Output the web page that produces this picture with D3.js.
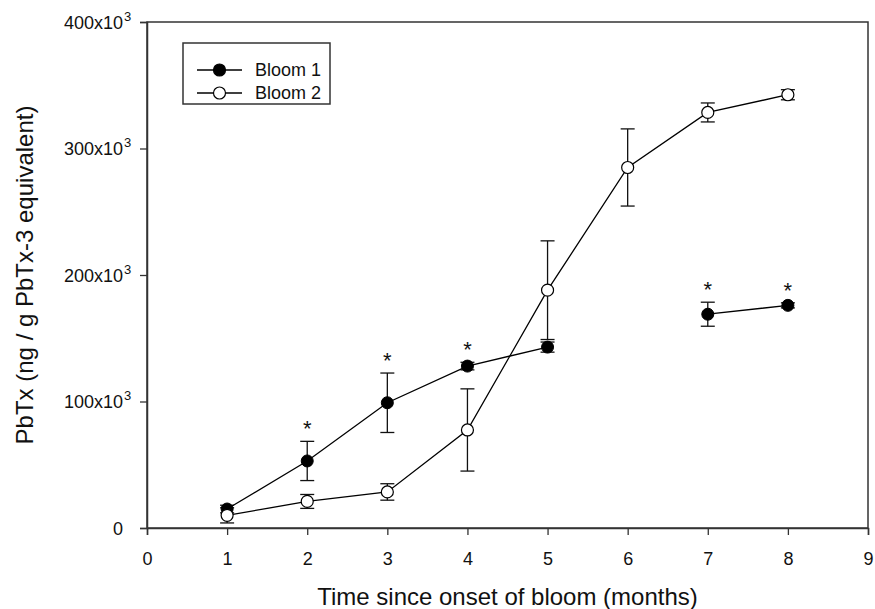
<!DOCTYPE html>
<html>
<head>
<meta charset="utf-8">
<script src="https://cdn.jsdelivr.net/npm/d3@7"></script>
<style>
  body { margin: 0; background: #fff; }
  text { font-family: "Liberation Sans", Arial, sans-serif; }
</style>
</head>
<body>
<div id="chart"></div>
<script>
// months since bloom onset
const bloom1Months = [1, 2, 3, 4, 5, 7, 8];
const bloom1Values = [15000, 53000, 99000, 128000, 143000, 169000, 176000];
const bloom1Errors = [3000, 15500, 23500, 3000, 4000, 9500, 2000];
const bloom1Signif = [false, true, true, true, false, true, true];

const bloom2Months = [1, 2, 3, 4, 5, 6, 7, 8];
const bloom2Values = [10000, 21000, 28500, 77500, 188000, 285000, 328500, 342500];
const bloom2Errors = [6000, 5500, 6500, 32500, 39000, 30500, 7500, 4000];

const xTicks = [0, 1, 2, 3, 4, 5, 6, 7, 8, 9];
const yTicks = [0, 100000, 200000, 300000, 400000];

const W = 875, H = 609;
const m = { left: 147, right: 7, top: 22, bottom: 81 };

const svg = d3.select("#chart").append("svg")
    .attr("width", W).attr("height", H);

const x = d3.scaleLinear().domain([0, 9]).range([m.left, W - m.right]);
const y = d3.scaleLinear().domain([0, 400000]).range([H - m.bottom, m.top]);

const axisColor = "#333";
const tickFont = 18;

// frame
svg.append("rect")
    .attr("x", x(0)).attr("y", y(400000))
    .attr("width", x(9) - x(0)).attr("height", y(0) - y(400000))
    .attr("fill", "none").attr("stroke", axisColor).attr("stroke-width", 1.5);

const xAxis = svg.append("g")
    .attr("transform", "translate(0," + y(0) + ")")
    .call(d3.axisBottom(x).tickValues(xTicks).tickSize(7).tickPadding(17).tickFormat(d3.format("d")));
const yAxis = svg.append("g")
    .attr("transform", "translate(" + x(0) + ",0)")
    .call(d3.axisLeft(y).tickValues(yTicks).tickSize(7).tickFormat(() => ""));

[xAxis, yAxis].forEach(function (g) {
    g.select(".domain").attr("stroke", axisColor).attr("stroke-width", 1.5);
    g.selectAll(".tick line").attr("stroke", axisColor).attr("stroke-width", 1.3);
    g.selectAll("text").attr("font-size", tickFont).attr("fill", "#111")
        .style("font-family", "'Liberation Sans', Arial, sans-serif");
});

// y tick labels: base text right aligned, exponent hangs past it
yAxis.selectAll(".tick").each(function (d) {
    const tk = d3.select(this);
    tk.select("text").remove();
    tk.append("text")
        .attr("x", -24).attr("dy", "0.35em")
        .attr("text-anchor", "end").attr("font-size", tickFont).attr("fill", "#111")
        .text(d === 0 ? "0" : (d / 1000) + "x10");
    if (d !== 0) {
        tk.append("text")
            .attr("x", -23).attr("dy", "-0.15em")
            .attr("text-anchor", "start").attr("font-size", 13).attr("fill", "#111")
            .text("3");
    }
});

// axis titles
svg.append("text")
    .attr("x", (x(0) + x(9)) / 2).attr("y", 605)
    .attr("text-anchor", "middle").attr("font-size", 24).attr("fill", "#111")
    .text("Time since onset of bloom (months)");
svg.append("text")
    .attr("transform", "translate(33," + ((y(0) + y(400000)) / 2) + ")rotate(-90)")
    .attr("text-anchor", "middle").attr("font-size", 24).attr("fill", "#111")
    .text("PbTx (ng / g PbTx-3 equivalent)");

function toRows(months, values, errors) {
    return months.map(function (mo, i) {
        return { x: mo, v: values[i], e: errors[i] };
    });
}
const rows1 = toRows(bloom1Months, bloom1Values, bloom1Errors);
const rows2 = toRows(bloom2Months, bloom2Values, bloom2Errors);

const line = d3.line()
    .defined(d => d.v != null)
    .x(d => x(d.x)).y(d => y(d.v));

// bloom 1 has no sample at month 6, so the line breaks there
const rows1Gap = rows1.slice(0, 5).concat([{ x: 6, v: null }], rows1.slice(5));

function drawErrors(rows) {
    const g = svg.append("g").attr("stroke", "#111").attr("stroke-width", 1.3);
    rows.forEach(function (d) {
        const cx = x(d.x), top = y(d.v + d.e), bot = y(d.v - d.e);
        g.append("line").attr("x1", cx).attr("x2", cx).attr("y1", top).attr("y2", bot);
        g.append("line").attr("x1", cx - 7).attr("x2", cx + 7).attr("y1", top).attr("y2", top);
        g.append("line").attr("x1", cx - 7).attr("x2", cx + 7).attr("y1", bot).attr("y2", bot);
    });
}

drawErrors(rows2);
drawErrors(rows1);

svg.append("path").datum(rows2).attr("d", line)
    .attr("fill", "none").attr("stroke", "#000").attr("stroke-width", 1.3);
svg.append("path").datum(rows1Gap).attr("d", line)
    .attr("fill", "none").attr("stroke", "#000").attr("stroke-width", 1.3);

svg.append("g").selectAll("circle").data(rows1).enter().append("circle")
    .attr("cx", d => x(d.x)).attr("cy", d => y(d.v)).attr("r", 6)
    .attr("fill", "#000").attr("stroke", "#000").attr("stroke-width", 1);
svg.append("g").selectAll("circle").data(rows2).enter().append("circle")
    .attr("cx", d => x(d.x)).attr("cy", d => y(d.v)).attr("r", 6)
    .attr("fill", "#fff").attr("stroke", "#000").attr("stroke-width", 1.2);

// significance stars above bloom 1 error bars
svg.append("g").selectAll("text")
    .data(rows1.filter((d, i) => bloom1Signif[i])).enter().append("text")
    .attr("x", d => x(d.x)).attr("y", d => y(d.v + d.e) - 5)
    .attr("text-anchor", "middle").attr("font-size", 22).attr("fill", "#111")
    .text("*");

// legend
const leg = svg.append("g");
leg.append("rect").attr("x", 183).attr("y", 43).attr("width", 147).attr("height", 61)
    .attr("fill", "#fff").attr("stroke", axisColor).attr("stroke-width", 1.5);
const legItems = [
    { label: "Bloom 1", fill: "#000", ly: 70 },
    { label: "Bloom 2", fill: "#fff", ly: 93 }
];
legItems.forEach(function (it) {
    leg.append("line").attr("x1", 197).attr("x2", 242).attr("y1", it.ly).attr("y2", it.ly)
        .attr("stroke", "#000").attr("stroke-width", 1.3);
    leg.append("circle").attr("cx", 219.5).attr("cy", it.ly).attr("r", 6)
        .attr("fill", it.fill).attr("stroke", "#000").attr("stroke-width", 1.2);
    leg.append("text").attr("x", 255).attr("y", it.ly).attr("dy", "0.35em")
        .attr("font-size", 18).attr("fill", "#111").text(it.label);
});
</script>
</body>
</html>
